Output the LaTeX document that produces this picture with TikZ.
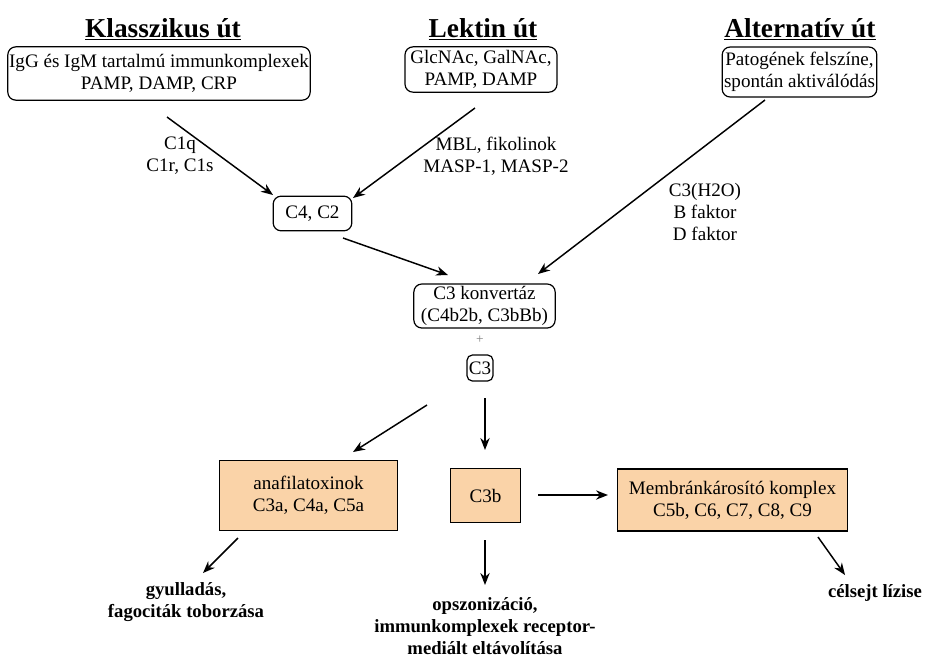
\documentclass[tikz,border=0pt]{standalone}
\usepackage{fontspec}
\setmainfont{Liberation Serif}
\usetikzlibrary{arrows.meta,positioning}
\definecolor{peach}{RGB}{250,211,168}
\tikzset{
  rbox/.style={draw, rounded corners=6pt, line width=0.9pt, inner sep=1pt, align=center, font=\fontsize{14.3}{16.5}\selectfont},
  obox/.style={draw, fill=peach, line width=0.8pt, inner sep=1pt, align=center, font=\fontsize{14.3}{16.5}\selectfont},
  lab/.style={align=center, inner sep=0pt, font=\fontsize{14.3}{16.5}\selectfont},
  res/.style={align=center, inner sep=0pt, font=\fontsize{14}{16}\selectfont\bfseries},
  ttl/.style={inner sep=0pt, font=\fontsize{20.5}{24}\selectfont\bfseries},
  arr/.style={-{Stealth[length=9pt,width=7pt]}, line width=1.1pt}
}
\begin{document}
\begin{tikzpicture}[x=0.75pt,y=-0.75pt]
\useasboundingbox (0,0) rectangle (925,662);

%utak
\node[ttl] (klt) at (163,29) {\underline{Klasszikus út}};
\node[ttl] (lkt) at (483,29) {\underline{Lektin út}};
\node[ttl] (alt) at (800,29) {\underline{Alternatív út}};

\node[rbox, minimum width=223.5pt, minimum height=40pt] (klbox) at (159,73.5)
  {IgG és IgM tartalmú immunkomplexek\\PAMP, DAMP, CRP};
\node[rbox, minimum width=114pt, minimum height=34pt] (lebox) at (481,69.5)
  {GlcNAc, GalNAc,\\PAMP, DAMP};
\node[rbox, minimum width=116pt, minimum height=37.5pt] (albox) at (799.5,72)
  {Patogének felszíne,\\spontán aktiválódás};

\node[rbox, minimum width=59pt, minimum height=26pt] (c4c2) at (312.5,213.5) {C4, C2};
\node[rbox, minimum width=106pt, minimum height=33pt] (conv) at (484.5,306)
  {C3 konvertáz\\(C4b2b, C3bBb)};
\node[lab, text=gray, font=\fontsize{10}{12}\selectfont] (plus) at (480,340) {+};
\node[rbox, rounded corners=4pt, minimum width=19.5pt, minimum height=19.5pt] (c3) at (480,368) {C3};

%cimkek
\node[lab] (c1lab) at (180,156) {C1q\\C1r, C1s};
\node[lab] (mbllab) at (496,156) {MBL, fikolinok\\MASP-1, MASP-2};
\node[lab] (altlab) at (705,212) {C3(H2O)\\B faktor\\D faktor};

%termekek
\node[obox, minimum width=134pt, minimum height=53pt] (ana) at (308.5,495.5)
  {anafilatoxinok\\C3a, C4a, C5a};
\node[obox, minimum width=53pt, minimum height=40pt] (c3b) at (485.5,495.5) {C3b};
\node[obox, minimum width=173pt, minimum height=46.5pt] (mac) at (732.5,500)
  {Membránkárosító komplex\\C5b, C6, C7, C8, C9};

\node[res] (gyul) at (186,602) {gyulladás,\\fagociták toborzása};
\node[res, font=\fontsize{14}{16.5}\selectfont\bfseries] (opsz) at (485,626)
  {opszonizáció,\\immunkomplexek receptor-\\mediált eltávolítása};
\node[res] (cels) at (875,593) {célsejt lízise};

%nyilak vegpontjai
\coordinate (aKs) at (167,117);  \coordinate (aKe) at (273,195);
\coordinate (aLs) at (475,108);  \coordinate (aLe) at (353,198);
\coordinate (aAs) at (765,100);  \coordinate (aAe) at (538,274);
\coordinate (aCs) at (343,238);  \coordinate (aCe) at (448,275);
\coordinate (bAs) at (427,405);  \coordinate (bAe) at (353,452);
\coordinate (bBs) at (485,398);  \coordinate (bBe) at (485,450);
\coordinate (bMs) at (538,495);  \coordinate (bMe) at (608,495);
\coordinate (cGs) at (238,538);  \coordinate (cGe) at (203,573);
\coordinate (cOs) at (485,540);  \coordinate (cOe) at (485,585);
\coordinate (cLs) at (818,537);  \coordinate (cLe) at (845,575);

\draw[arr] (aKs) -- (aKe);
\draw[arr] (aLs) -- (aLe);
\draw[arr] (aAs) -- (aAe);
\draw[arr] (aCs) -- (aCe);
\draw[arr] (bAs) -- (bAe);
\draw[arr] (bBs) -- (bBe);
\draw[arr] (bMs) -- (bMe);
\draw[arr] (cGs) -- (cGe);
\draw[arr] (cOs) -- (cOe);
\draw[arr] (cLs) -- (cLe);

\end{tikzpicture}
\end{document}
